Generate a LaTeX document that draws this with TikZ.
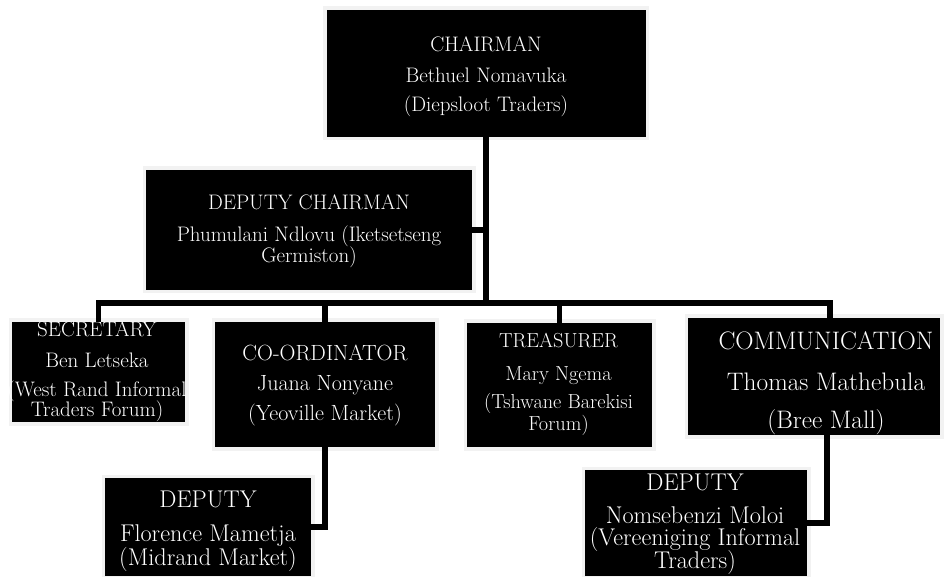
\documentclass[tikz,border=0pt]{standalone}
\begin{document}
\begin{tikzpicture}[x=1pt,y=1pt,
  box/.style={fill=black, inner sep=0pt, preaction={draw=black!5, line width=7pt}},
  txt/.style={text=white, align=center, inner sep=0pt, anchor=base},
  conn/.style={line width=5.5pt, line join=miter}]
\useasboundingbox (0,0) rectangle (950,576);
% boxes
\node[box, minimum width=319pt, minimum height=127pt] (chair) at (486,502.5) {};
\node[box, minimum width=326pt, minimum height=120pt] (depchair) at (309,346) {};
\node[box, minimum width=173pt, minimum height=100pt] (sec) at (98.5,204) {};
\node[box, minimum width=220pt, minimum height=125pt] (coord) at (325,191.5) {};
\node[box, minimum width=185pt, minimum height=124pt] (treas) at (559.5,191) {};
\node[box, minimum width=252pt, minimum height=117pt] (comm) at (814,199.5) {};
\node[box, minimum width=206pt, minimum height=98pt] (flo) at (208,49) {};
\node[box, minimum width=222pt, minimum height=106pt] (nom) at (696,53) {};
% texts (anchor base = baseline of last line)
\node[txt, font=\fontsize{21}{23}\selectfont] (chairT) at (486,464)
  {CHAIRMAN\\[8pt]Bethuel Nomavuka\\[6pt](Diepsloot Traders)};
\node[txt, font=\fontsize{21}{23}\selectfont] (depchairT) at (309,313)
  {DEPUTY CHAIRMAN\\[9pt]Phumulani Ndlovu (Iketsetseng\\[-2pt]Germiston)};
\node[txt, font=\fontsize{21}{23}\selectfont] (secT) at (97,160)
  {SECRETARY\\[8pt]Ben Letseka\\[6pt](West Rand Informal\\[-3pt]Traders Forum)};
\node[txt, font=\fontsize{22}{24}\selectfont] (coordT) at (325,156)
  {CO-ORDINATOR\\[5pt]Juana Nonyane\\[6pt](Yeoville Market)};
\node[txt, font=\fontsize{20.3}{22.3}\selectfont] (treasT) at (558.5,146)
  {TREASURER\\[10.7pt]Mary Ngema\\[5.7pt](Tshwane Barekisi\\[-0.3pt]Forum)};
\node[txt, font=\fontsize{25.3}{27.3}\selectfont] (commT) at (826,148)
  {COMMUNICATION\\[12.7pt]Thomas Mathebula\\[10.7pt](Bree Mall)};
\node[txt, font=\fontsize{24.2}{26.2}\selectfont] (floT) at (208,11)
  {DEPUTY\\[7.8pt]Florence Mametja\\[-2.5pt](Midrand Market)};
\node[txt, font=\fontsize{24.2}{26.2}\selectfont] (nomT) at (695,8)
  {DEPUTY\\[6pt]Nomsebenzi Moloi\\[-3.5pt](Vereeniging Informal\\[-4pt]Traders)};
% connectors
\coordinate (bus) at (486,273);
\coordinate (commtop) at ([xshift=16pt]comm.north);
\draw[conn] (chair.south) -- (bus);
\draw[conn] (depchair.east) -- (depchair.east -| bus);
\draw[conn] (sec.north) |- (bus) -| (commtop);
\draw[conn] (coord.north) -- (coord.north |- bus);
\draw[conn] (treas.north) -- (treas.north |- bus);
\draw[conn] (coord.south) |- (flo.east);
\draw[conn] ([xshift=13pt]comm.south) |- (nom.east);
\end{tikzpicture}
\end{document}
